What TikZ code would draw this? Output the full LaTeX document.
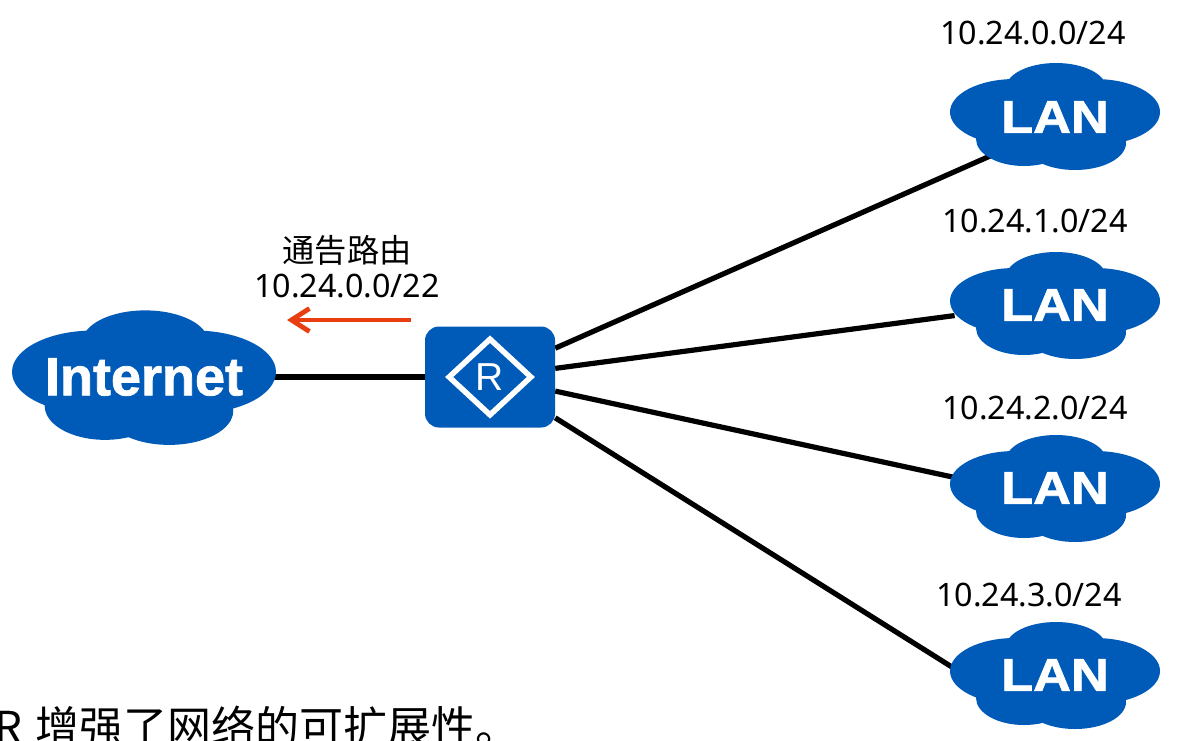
\documentclass[tikz,border=0pt]{standalone}
\usepackage{fontspec}
\setmainfont{Noto Sans}
\newfontfamily\cjk{Noto Sans CJK SC}
\newfontfamily\lbl[BoldFeatures={FakeBold=1.4}]{Liberation Sans}
\usepackage{tikz}
\usetikzlibrary{arrows.meta,positioning,backgrounds,shapes.geometric}
\definecolor{netblue}{RGB}{0,90,184}
\definecolor{advred}{RGB}{232,62,16}
\tikzset{
  blob/.pic={\fill[netblue] (-40,-4) ellipse [x radius=65, y radius=33] (40,-4) ellipse [x radius=65, y radius=33]
    (1,-28) ellipse [x radius=50, y radius=25] (-31,23) ellipse [x radius=48, y radius=27] (20,27) ellipse [x radius=51, y radius=27];},
  lanbox/.style={ellipse, minimum width=205pt, minimum height=100pt, inner sep=0pt, text=white, font=\lbl\fontsize{46}{46}\selectfont\bfseries},
  netbox/.style={rectangle, minimum width=258pt, minimum height=126pt, inner sep=0pt, text=white, font=\lbl\fontsize{54}{54}\selectfont\bfseries},
  routerbox/.style={rectangle, rounded corners=14pt, fill=netblue, minimum width=130pt, minimum height=101pt, inner sep=0pt},
  routermark/.style={diamond, draw=white, line width=5.5pt, minimum width=84pt, minimum height=78pt, inner sep=0pt, text=white, font=\lbl\fontsize{39}{39}\selectfont},
  addr/.style={font=\fontsize{32.3}{35}\selectfont, align=center},
  lnk/.style={line width=5.2pt},
  adv/.style={-{Straight Barb[length=18pt, width=23pt]}, line width=4.8pt, advred}}
\begin{document}
\begin{tikzpicture}[x=1pt, y=-1pt]
  \clip (0,0) rectangle (1193,740);
  % clouds
  \pic at (1055,116) {blob};
  \pic at (1055,305) {blob};
  \pic at (1055,488) {blob};
  \pic at (1055,675) {blob};
  \pic[scale=1.257] at (144,377) {blob};
  \node[lanbox] (lan0) at (1055,117) {\scalebox{1.14}[1]{LAN}};
  \node[lanbox] (lan1) at (1055,305) {\scalebox{1.14}[1]{LAN}};
  \node[lanbox] (lan2) at (1055,488) {\scalebox{1.14}[1]{LAN}};
  \node[lanbox] (lan3) at (1055,675) {\scalebox{1.14}[1]{LAN}};
  \node[netbox] (net) at (144,377) {Internet};
  \node[routerbox] (rt) at (490,377) {};
  \node[routermark] (rtmark) at (rt.center) {R};
  % prefixes
  \node[addr] (p0) at (1033,33) {10.24.0.0/24};
  \node[addr] (p1) at (1035,221) {10.24.1.0/24};
  \node[addr] (p2) at (1035,408) {10.24.2.0/24};
  \node[addr] (p3) at (1029,595) {10.24.3.0/24};
  \node[addr] (sum) at (347,267) {{\cjk 通告路由}\\10.24.0.0/22};
  \coordinate (advfrom) at (411,320);
  \coordinate (advto) at (287,320);
  \draw[adv] (advfrom) -- (advto);
  \node[anchor=west, inner sep=0pt, font=\cjk\fontsize{44}{44}\selectfont] (tail) at (-6,727) {R\hspace{4pt} 增强了网络的可扩展性。};
  \begin{scope}[on background layer]
    \draw[lnk] (net) -- (rt);
    \draw[lnk] (rt) -- (lan0.211);
    \draw[lnk] (rt) -- (lan1.186);
    \draw[lnk] (rt) -- (lan2.174);
    \draw[lnk] (rt) -- (lan3.176);
  \end{scope}
\end{tikzpicture}
\end{document}
